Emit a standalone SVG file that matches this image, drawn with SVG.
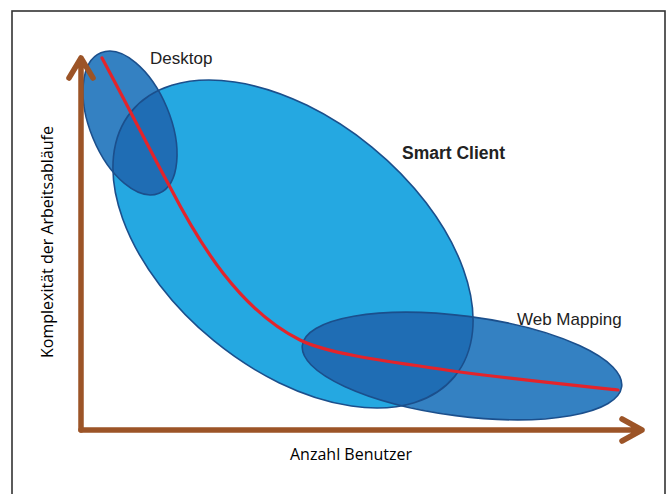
<svg xmlns="http://www.w3.org/2000/svg" width="667" height="494" viewBox="0 0 667 494">
<style>
.lbl{font-family:"Liberation Sans",Arial,sans-serif;fill:#222;}
.ax{font-family:"Open Sans","Noto Sans",sans-serif;fill:#000;font-size:16px;}
.outline{fill:none;stroke:#1b4f8c;stroke-width:1.6;}
.axis{fill:none;stroke:#9c5427;stroke-width:5.5;stroke-linecap:round;stroke-linejoin:round;}
</style>
<defs>
<ellipse id="eS" cx="293" cy="244" rx="209" ry="125" transform="rotate(39.3 293 244)"/>
<ellipse id="eD" cx="130" cy="123" rx="76" ry="40" transform="rotate(67.5 130 123)"/>
<ellipse id="eW" cx="462" cy="366" rx="161" ry="50" transform="rotate(7.4 462 366)"/>
<clipPath id="cS"><use href="#eS"/></clipPath>
</defs>
<rect x="0" y="0" width="667" height="494" fill="#fff"/>
<rect x="12" y="11" width="653" height="500" fill="none" stroke="#333" stroke-width="1.6"/>
<g id="smart-client">
<use href="#eS" fill="#25a8e1"/>
</g>
<g id="desktop">
<use href="#eD" fill="#3481c2"/>
<use href="#eD" fill="#1f6db4" clip-path="url(#cS)"/>
</g>
<g id="web-mapping">
<use href="#eW" fill="#3481c2"/>
<use href="#eW" fill="#1f6db4" clip-path="url(#cS)"/>
</g>
<g id="outlines">
<use href="#eS" class="outline"/>
<use href="#eD" class="outline"/>
<use href="#eW" class="outline"/>
</g>
<g id="connectors">
<path class="axis" d="M81,430 L81,58 M69,78 L81,58 L93,78"/>
<path class="axis" d="M81,430 L642,430 M622,419 L642,430 L622,441"/>
<path d="M102,58 C130,110 155,160 170,187 C200,245 240,310 300,340 C330,355 400,363 460,372 C520,380 580,386 618,390" fill="none" stroke="#e3242b" stroke-width="3.2" stroke-linecap="round"/>
</g>
<g id="labels">
<text class="lbl" x="150" y="64" font-size="17">Desktop</text>
<text class="lbl" x="402" y="159" font-size="17.5" font-weight="bold">Smart Client</text>
<text class="lbl" x="517" y="325" font-size="17">Web Mapping</text>
<text class="ax" x="290" y="460">Anzahl Benutzer</text>
<text class="ax" transform="translate(53,242) rotate(-90)" text-anchor="middle">Komplexität der Arbeitsabläufe</text>
</g>
</svg>
